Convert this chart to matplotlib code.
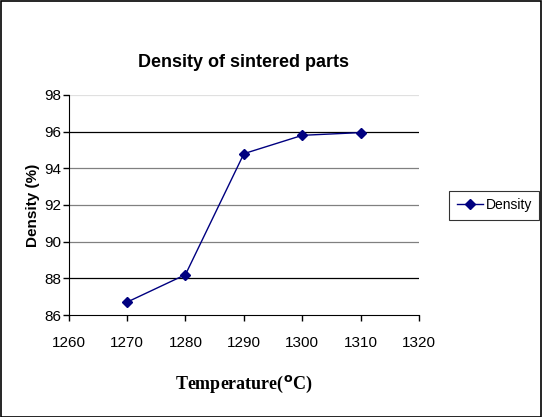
import matplotlib
matplotlib.use('Agg')
import matplotlib.pyplot as plt
from matplotlib.patches import Rectangle

temperature = [1270, 1280, 1290, 1300, 1310]
density = [86.7, 88.2, 94.8, 95.8, 95.95]
xTicks = [1260, 1270, 1280, 1290, 1300, 1310, 1320]
yTicks = [86, 88, 90, 92, 94, 96, 98]
gridColors = ['black', 'black', '#808080', '#808080', '#808080', 'black', '#e0e0e0']

plt.rcParams['font.family'] = 'Liberation Sans'

fig = plt.figure(figsize=(5.42, 4.17), dpi=100)
ax = fig.add_axes([0.1264, 0.2446, 0.6472, 0.5276])

for yv, c in zip(yTicks[1:], gridColors[1:]):
    ax.axhline(yv, color=c, linewidth=0.9, zorder=1)

ax.plot(temperature, density, color='#000080', linewidth=1.0,
        marker='D', markersize=5, label='Density', zorder=3)

ax.set_xlim(1260, 1320)
ax.set_ylim(86, 98)
ax.set_xticks(xTicks)
ax.set_yticks(yTicks)
ax.tick_params(axis='both', direction='out', length=4, width=1, labelsize=11, colors='black')
ax.tick_params(axis='x', pad=11)
ax.tick_params(axis='y', pad=1)
for s in ['top', 'right']:
    ax.spines[s].set_visible(False)
ax.spines['left'].set_color('black')
ax.spines['bottom'].set_color('black')

ax.set_title('Density of sintered parts', fontsize=13, fontweight='bold', pad=20)
ax.set_ylabel('Density (%)', fontsize=11, fontweight='bold', labelpad=3)
ax.set_xlabel('Temperature($\\mathbf{^o}$C)', fontsize=13, fontweight='bold',
              family='Liberation Serif', labelpad=17)

leg = fig.legend(loc='center left', bbox_to_anchor=(0.829, 0.508), fontsize=10,
                 frameon=True, fancybox=False, edgecolor='black',
                 handlelength=1.9, handletextpad=0.15, borderpad=0.55, borderaxespad=0)
leg.get_frame().set_linewidth(0.8)

fig.add_artist(Rectangle((0.001, 0.001), 0.997, 0.997, transform=fig.transFigure,
                         fill=False, edgecolor='black', linewidth=1.2))

plt.savefig('out.png', dpi=100)
